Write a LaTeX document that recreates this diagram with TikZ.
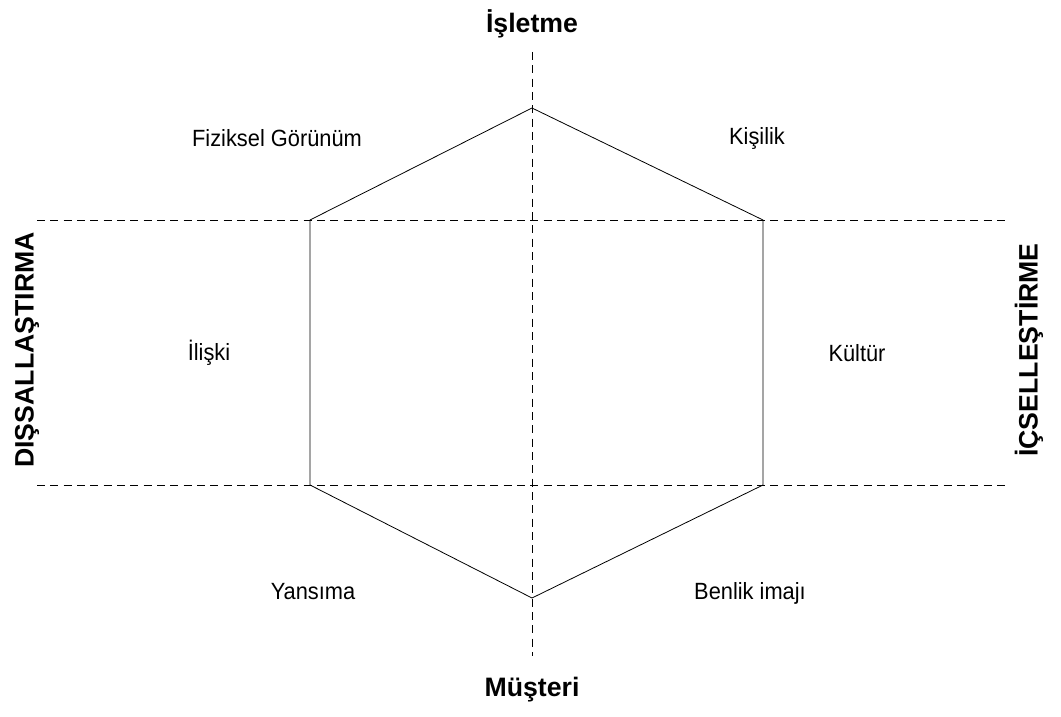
\documentclass[tikz,border=0pt]{standalone}
\usepackage{fontspec}
\setmainfont{Liberation Sans}
\newfontfamily\narrowfont[FakeStretch=0.93]{Liberation Sans}
\begin{document}
\begin{tikzpicture}[x=0.75pt,y=-0.75pt,sty1/.style={color=black, line width=0.6pt},
    sty2/.style={color=black, line width=0.6pt, dash pattern=on 6pt off 4pt},
    lbl/.style={font=\narrowfont\fontsize{17.6}{21}\selectfont},
    axlbl/.style={font=\fontsize{20}{24}\selectfont\bfseries}]

\useasboundingbox (0,0) rectangle (1061,717);

% Dashed axes
\draw[sty2] (532,52) -- (532,656);
\draw[sty2] (37,220) -- (1008,220);
\draw[sty2] (37,485) -- (1008,485);

% Hexagon
\draw[sty1] (532,108) -- (763,220) -- (763,485) -- (532,598) -- (310,485)
  -- (310,220) -- cycle;

% Axis labels
\node[axlbl] (isl) at (532,24) {İşletme};
\node[axlbl] (mus) at (532,690) {Müşteri};
\node[axlbl,rotate=90] (dis) at (27,350) {DIŞSALLAŞTIRMA};
\node[axlbl,rotate=90] (ic) at (1029,350) {İÇSELLEŞTİRME};

% Prism facets
\node[lbl] (fiz) at (277,138) {Fiziksel Görünüm};
\node[lbl] (kis) at (757,138) {Kişilik};
\node[lbl] (ili) at (209,353) {İlişki};
\node[lbl] (kul) at (857,353) {Kültür};
\node[lbl] (yan) at (313,592) {Yansıma};
\node[lbl] (ben) at (750,593) {Benlik imajı};

\end{tikzpicture}
\end{document}
